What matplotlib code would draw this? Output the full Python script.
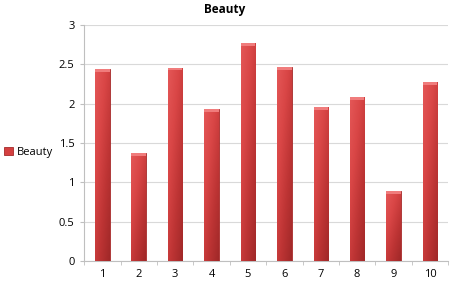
import numpy as np
import matplotlib
matplotlib.use('Agg')
import matplotlib.pyplot as plt
from matplotlib.colors import LinearSegmentedColormap

# data
categories = ['1', '2', '3', '4', '5', '6', '7', '8', '9', '10']
beauty = [2.44, 1.37, 2.46, 1.93, 2.77, 2.47, 1.96, 2.08, 0.89, 2.27]
yticks = [0, 0.5, 1, 1.5, 2, 2.5, 3]
ytick_labels = ['0', '0.5', '1', '1.5', '2', '2.5', '3']

plt.rcParams['font.family'] = ['Open Sans', 'DejaVu Sans']

fig = plt.figure(figsize=(4.5, 2.82), dpi=100)
ax = fig.add_axes([0.187, 0.0745, 0.809, 0.8365])

x = np.arange(len(categories))
width = 0.40
bars = ax.bar(x, beauty, width, color='#d44040', edgecolor='#a52a2a', linewidth=0.6,
              label='Beauty', zorder=3)

# shaded fill for each bar (lighter top-left, darker bottom-right)
cmap = LinearSegmentedColormap.from_list('bar', ['#e45757', '#d94646', '#bd3434', '#a02828'])
grad_x = np.linspace(0, 1, 64)
grad_y = np.linspace(0, 1, 64)
grad = 0.45 * grad_x[None, :] + 0.55 * (1 - grad_y[:, None])
for b in bars:
    bx, by = b.get_x(), b.get_y()
    bw, bh = b.get_width(), b.get_height()
    im = ax.imshow(grad, extent=[bx, bx + bw, by + bh, by], cmap=cmap, aspect='auto',
                   zorder=3.5, vmin=0, vmax=1)
    im.set_clip_path(b)
    # light cap at the top
    ax.bar(bx + bw / 2, 0.035, bw, bottom=by + bh - 0.035, color='#f07c7c',
           edgecolor='none', zorder=4)

ax.set_xlim(-0.5, len(categories) - 0.5)
ax.set_ylim(0, 3)
ax.set_yticks(yticks)
ax.set_yticklabels(ytick_labels)
ax.set_xticks(x)
ax.set_xticklabels(categories)
ax.set_xticks(np.arange(-0.5, len(categories), 1), minor=True)
ax.tick_params(axis='x', which='major', length=0, pad=6, labelsize=8)
ax.tick_params(axis='x', which='minor', length=3, color='#bfbfbf')
ax.tick_params(axis='y', length=3, color='#bfbfbf', labelsize=8, pad=4)

ax.yaxis.grid(True, color='#d9d9d9', linewidth=0.8, zorder=0)
ax.set_axisbelow(True)
for s in ['top', 'right']:
    ax.spines[s].set_visible(False)
ax.spines['left'].set_color('#bfbfbf')
ax.spines['bottom'].set_color('#bfbfbf')

fig.text(0.5, 0.968, 'Beauty', ha='center', va='center', fontsize=8.5, fontweight='bold')

fig.legend(handles=[bars], labels=['Beauty'], loc='center left',
           bbox_to_anchor=(0.0, 0.46), frameon=False, fontsize=8,
           handlelength=0.8, handleheight=0.8, handletextpad=0.3, borderaxespad=0)

fig.savefig('out.png', dpi=100)
